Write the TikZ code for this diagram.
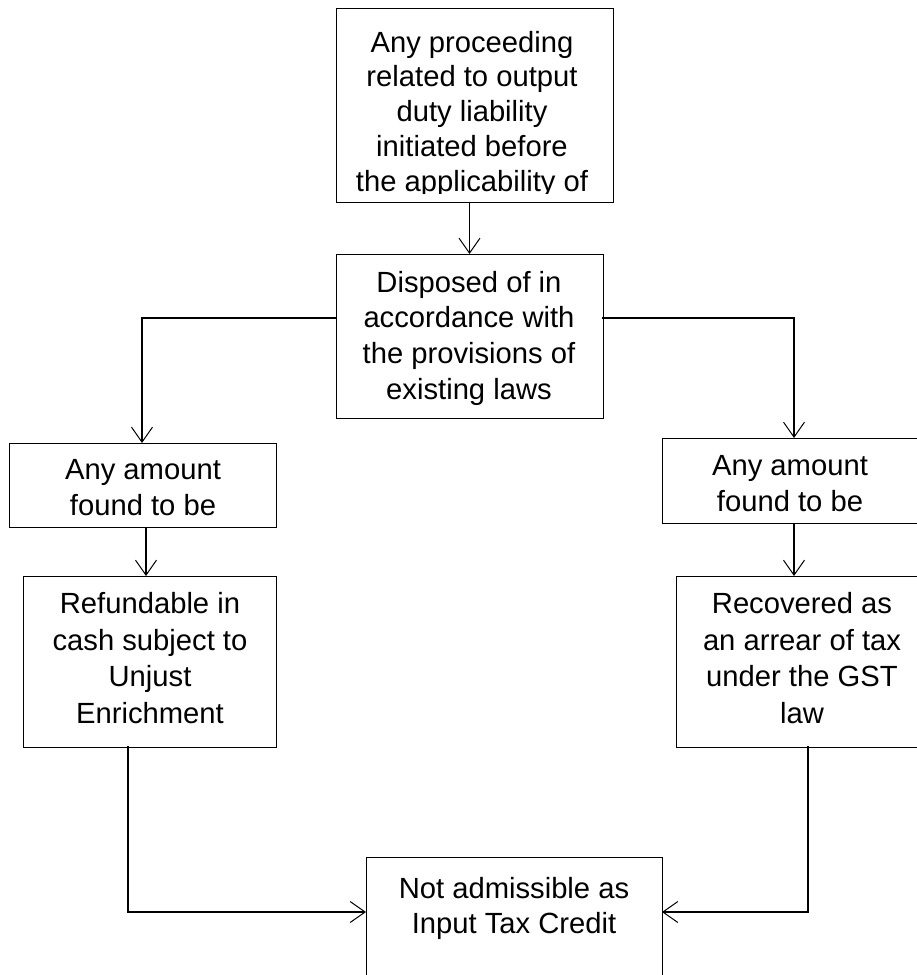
\documentclass[tikz,border=0pt]{standalone}
\usepackage{fontspec}
\setmainfont{Liberation Sans}
\usetikzlibrary{arrows.meta}
\begin{document}
\begin{tikzpicture}[x=1pt,y=-1pt,
  box/.style={draw,line width=1pt,inner sep=0pt,outer sep=0pt,anchor=north west},
  txt/.style={anchor=base,align=center,inner sep=0pt,font=\fontsize{29.2}{36.5}\selectfont},
  arr/.style={line width=1.2pt,-{Straight Barb[length=15pt,width=21pt,line width=1pt]}},
  thickln/.style={line width=2pt,line cap=rect}]
\useasboundingbox (0,0) rectangle (917,975);
\clip (0,0) rectangle (917,975);
\fill[white] (0,0) rectangle (917,975);

% boxes
\node[box,minimum width=277pt,minimum height=194pt] (b1) at (336,8) {};
\node[box,minimum width=267pt,minimum height=164pt] (b2) at (336,254) {};
\node[box,minimum width=267pt,minimum height=84pt] (b3) at (9,443) {};
\node[box,minimum width=264pt,minimum height=85pt] (b4) at (662,438) {};
\node[box,minimum width=253pt,minimum height=171pt] (b5) at (23,576) {};
\node[box,minimum width=252pt,minimum height=171pt] (b6) at (676,576) {};
\node[box,minimum width=296pt,minimum height=160pt] (b7) at (366,857) {};

% texts (anchor base = baseline of the last line)
\begin{scope}
  \clip (336,8) rectangle (613,193);
  \node[txt,font=\fontsize{29.2}{34.7}\selectfont] (t1) at (472,191)
    {Any proceeding\\related to output\\duty liability\\initiated before\\the applicability of};
\end{scope}
\node[txt,font=\fontsize{29.2}{35.8}\selectfont] (t2) at (469,399.5)
  {Disposed of in\\accordance with\\the provisions of\\existing laws};
\node[txt,font=\fontsize{29.2}{35.5}\selectfont] (t3) at (143,515) {Any amount\\found to be};
\node[txt,font=\fontsize{29.2}{35.5}\selectfont] (t4) at (790,511) {Any amount\\found to be};
\node[txt] (t5) at (150,723) {Refundable in\\cash subject to\\Unjust\\Enrichment};
\node[txt] (t6) at (802,723) {Recovered as\\an arrear of tax\\under the GST\\law};
\node[txt,font=\fontsize{29.2}{35.5}\selectfont] (t7) at (514,933.5) {Not admissible as\\Input Tax Credit};

% connectors
\coordinate (jl) at (142,318);
\coordinate (jr) at (794,318);
\coordinate (m35) at (146,0);
\coordinate (cl) at (128,912);
\coordinate (cr) at (808,912);

\draw[arr,line width=1pt] (b1.south -| b2.north) -- (b2.north);
\draw[thickln] (b2.west |- jl) -- (jl);
\draw[arr] (jl) -- (b3.north -| jl);
\draw[thickln] (b2.east |- jr) -- (jr);
\draw[arr] (jr) -- (b4.north -| jr);
\draw[arr] (b3.south -| m35) -- (b5.north -| m35);
\draw[arr] (b4.south -| jr) -- (b6.north -| jr);
\draw[thickln,line width=2.5pt] (b5.south -| cl) -- (cl);
\draw[arr,line width=1.4pt] (cl) -- (b7.west |- cl);
\draw[thickln,line width=2.5pt] (b6.south -| cr) -- (cr);
\draw[arr,line width=1.4pt] (cr) -- (b7.east |- cr);
\end{tikzpicture}
\end{document}
